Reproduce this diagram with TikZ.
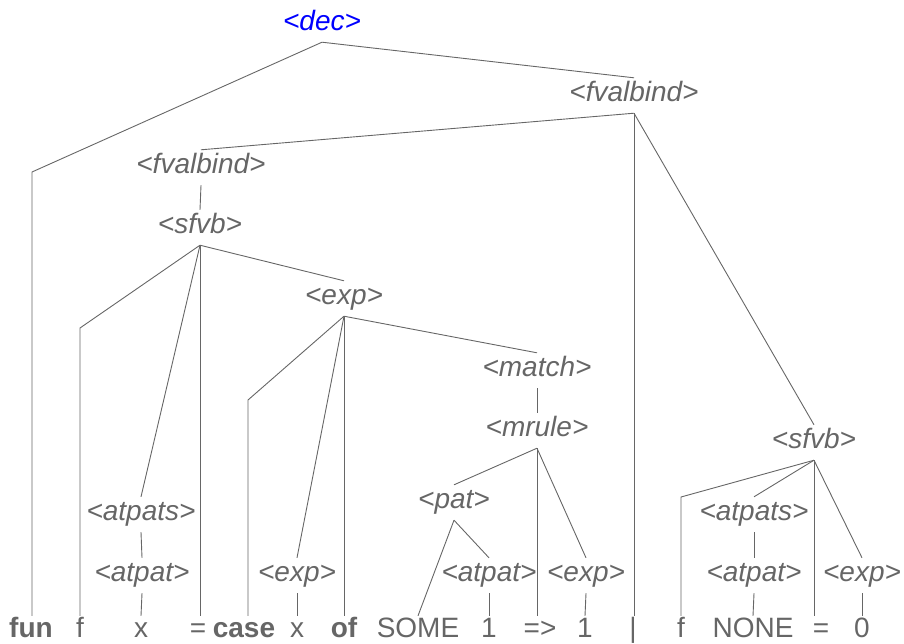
\documentclass[tikz,border=0pt]{standalone}
\usepackage{fontspec}
\setmainfont{Liberation Sans}
\usepackage{xcolor}
\definecolor{tree-grey}{HTML}{666666}
\definecolor{tree-root}{HTML}{0000FF}
\usepackage{tikz}

\begin{document}
\begin{tikzpicture}[x=1pt, y=-1pt,
    every node/.style={anchor=base, inner sep=0pt, text height=23pt, text depth=12pt,
        text=tree-grey, font=\fontsize{28}{32}\selectfont},
    nt/.style={font=\fontsize{28}{32}\selectfont\itshape},
    tok/.style={text height=21pt, text depth=1pt},
    kw/.style={tok, font=\fontsize{28}{32}\selectfont\bfseries},
    branch/.style={draw=tree-grey, line width=0.9pt}]

    % Frame
    \useasboundingbox (0, 0) rectangle (904, 643);

    % Nonterminals
    \node[nt, text=tree-root] (dec) at (322, 30) {<dec>};
    \node[nt] (fvbTop) at (634, 101) {<fvalbind>};
    \node[nt] (fvbLeft) at (201, 173) {<fvalbind>};
    \node[nt] (sfvbLeft) at (200, 233) {<sfvb>};
    \node[nt] (expCase) at (344, 304) {<exp>};
    \node[nt] (match) at (537, 376) {<match>};
    \node[nt] (mrule) at (537, 436) {<mrule>};
    \node[nt] (sfvbRight) at (814, 448) {<sfvb>};
    \node[nt] (pat) at (454, 508) {<pat>};
    \node[nt] (atpatsLeft) at (141, 520) {<atpats>};
    \node[nt] (atpatsRight) at (754, 520) {<atpats>};
    \node[nt] (atpatX) at (142, 581) {<atpat>};
    \node[nt] (expX) at (297, 581) {<exp>};
    \node[nt] (atpatOne) at (489, 581) {<atpat>};
    \node[nt] (expOne) at (586, 581) {<exp>};
    \node[nt] (atpatNone) at (754, 581) {<atpat>};
    \node[nt] (expZero) at (862, 581) {<exp>};

    % Tokens
    \node[kw] (fun) at (31, 637) {fun};
    \node[tok] (fLeft) at (80, 637) {f};
    \node[tok] (xLeft) at (141, 637) {x};
    \node[tok] (eqLeft) at (198, 637) {=};
    \node[kw] (case) at (244, 637) {case};
    \node[tok] (xCase) at (297, 637) {x};
    \node[kw] (of) at (344, 637) {of};
    \node[tok] (some) at (418, 637) {SOME};
    \node[tok] (oneLeft) at (489, 637) {1};
    \node[tok] (arrow) at (540, 637) {=>};
    \node[tok] (oneRight) at (585, 637) {1};
    \node[tok] (bar) at (633, 637) {|};
    \node[tok] (fRight) at (681, 637) {f};
    \node[tok] (none) at (753, 637) {NONE};
    \node[tok] (eqRight) at (821, 637) {=};
    \node[tok] (zero) at (862, 637) {0};

    % Bends
    \coordinate (funBend) at (32, 172);
    \coordinate (fBend) at (80, 328);
    \coordinate (caseBend) at (248, 400);
    \coordinate (fNoneBend) at (681, 497);

    % Top level
    \draw[branch] (dec.south) -- (funBend) -- (funBend |- fun.north);
    \draw[branch] (dec.south) -- (fvbTop.north);
    \draw[branch] (fvbTop.south) -- (fvbLeft.north);
    \draw[branch] (fvbTop.south) -- (fvbTop.south |- bar.north);
    \draw[branch] (fvbTop.south) -- (sfvbRight.north);

    % First clause
    \draw[branch] (fvbLeft.south) -- (sfvbLeft.north);
    \draw[branch] (sfvbLeft.south) -- (fBend) -- (fBend |- fLeft.north);
    \draw[branch] (sfvbLeft.south) -- (atpatsLeft.north);
    \draw[branch] (sfvbLeft.south) -- (sfvbLeft.south |- eqLeft.north);
    \draw[branch] (sfvbLeft.south) -- (expCase.north);
    \draw[branch] (atpatsLeft.south) -- (atpatX.north);
    \draw[branch] (atpatX.south) -- (xLeft.north);

    % Case expression
    \draw[branch] (expCase.south) -- (caseBend) -- (caseBend |- case.north);
    \draw[branch] (expCase.south) -- (expX.north);
    \draw[branch] (expCase.south) -- (expCase.south |- of.north);
    \draw[branch] (expCase.south) -- (match.north);
    \draw[branch] (expX.south) -- (xCase.north);
    \draw[branch] (match.south) -- (mrule.north);
    \draw[branch] (mrule.south) -- (pat.north);
    \draw[branch] (mrule.south) -- (mrule.south |- arrow.north);
    \draw[branch] (mrule.south) -- (expOne.north);
    \draw[branch] (pat.south) -- (some.north);
    \draw[branch] (pat.south) -- (atpatOne.north);
    \draw[branch] (atpatOne.south) -- (oneLeft.north);
    \draw[branch] (expOne.south) -- (oneRight.north);

    % Second clause
    \draw[branch] (sfvbRight.south) -- (fNoneBend) -- (fNoneBend |- fRight.north);
    \draw[branch] (sfvbRight.south) -- (atpatsRight.north);
    \draw[branch] (sfvbRight.south) -- (sfvbRight.south |- eqRight.north);
    \draw[branch] (sfvbRight.south) -- (expZero.north);
    \draw[branch] (atpatsRight.south) -- (atpatNone.north);
    \draw[branch] (atpatNone.south) -- (none.north);
    \draw[branch] (expZero.south) -- (zero.north);

\end{tikzpicture}
\end{document}
